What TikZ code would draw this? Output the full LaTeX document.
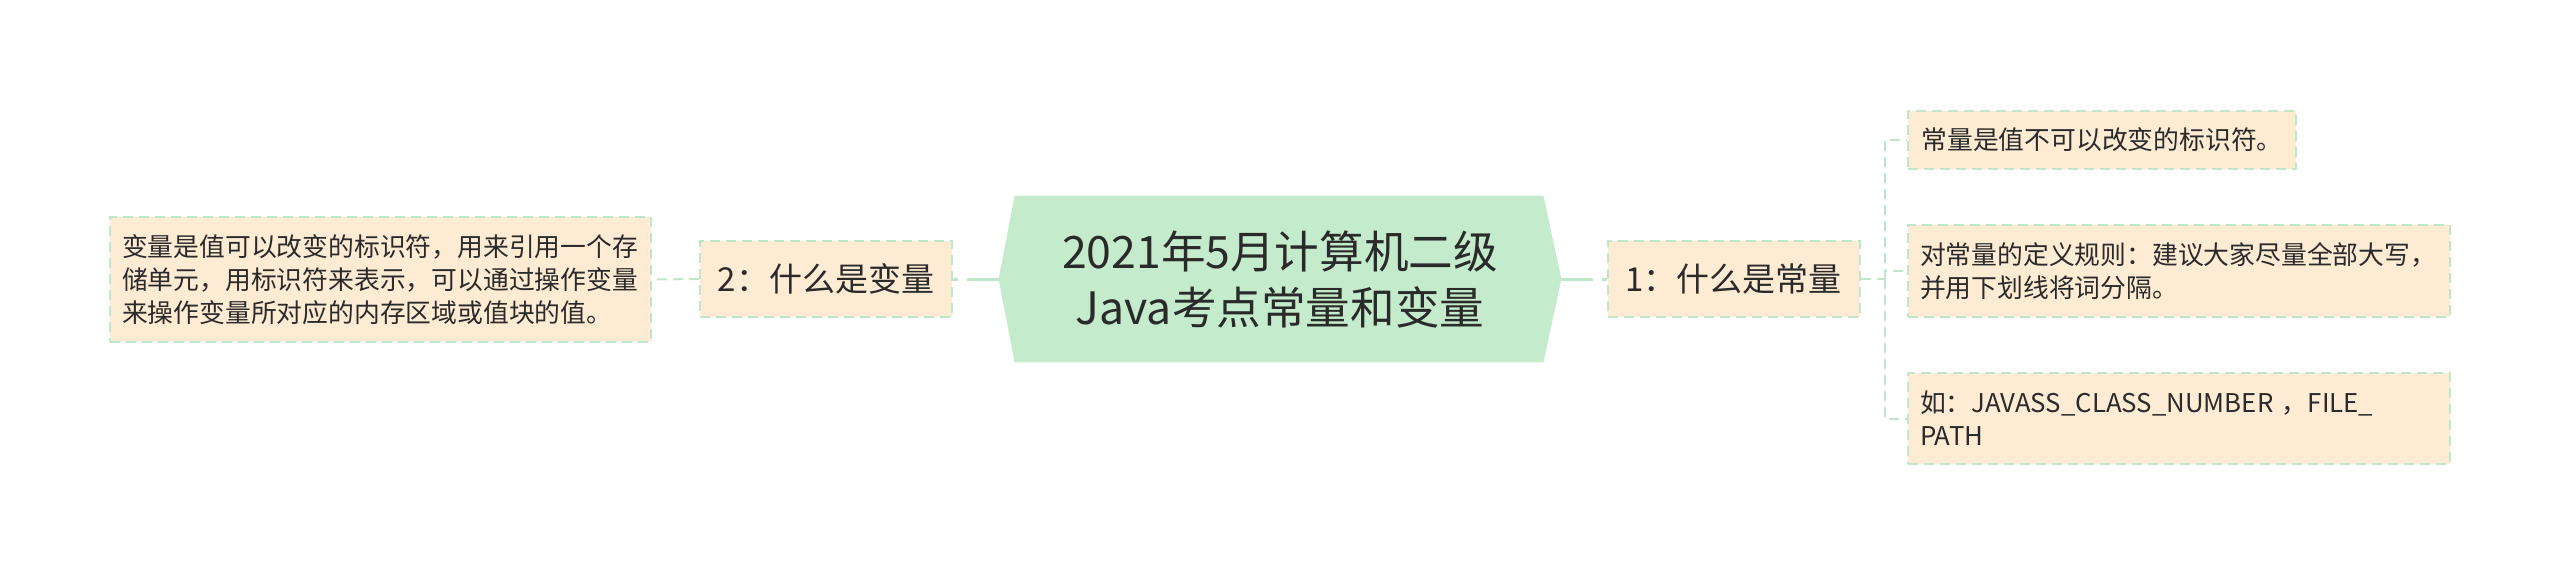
\documentclass[tikz,border=0pt]{standalone}
\usepackage{fontspec}
\setmainfont{Noto Sans CJK SC}
\usetikzlibrary{calc,backgrounds}
\definecolor{rootfill}{HTML}{C4EBCB}
\definecolor{boxfill}{HTML}{FDEBD4}
\definecolor{lineclr}{HTML}{BFE6C9}
\definecolor{txt}{HTML}{2A2A2A}
\begin{document}
\begin{tikzpicture}[x=0.5pt,y=-0.5pt,
  rootnode/.style={minimum width=281pt, minimum height=83pt, inner sep=0pt, align=center, text=txt,
    font=\fontsize{22.3}{28}\selectfont},
  subnode/.style={draw=lineclr, line width=1pt, dash pattern=on 5pt off 3pt, fill=boxfill, text=txt,
    minimum width=126pt, minimum height=38pt, inner sep=0pt, font=\fontsize{16.5}{20}\selectfont},
  leafnode/.style={draw=lineclr, line width=1pt, dash pattern=on 5pt off 3pt, fill=boxfill, text=txt,
    align=left, inner xsep=6pt, inner ysep=0pt, font=\fontsize{12.9}{16.5}\selectfont},
  rootlink/.style={draw=lineclr, line width=1.5pt, dash pattern=on 16pt off 4.5pt on 5pt off 100pt},
  childlink/.style={draw=lineclr, line width=1pt, dash pattern=on 5pt off 3pt}
]
\useasboundingbox (0,0) rectangle (2560,575);

\node[rootnode] (root) at (1280,279) {2021年5月计算机二级\\Java考点常量和变量};
\begin{pgfonlayer}{background}
\fill[rootfill] (root.west) -- ($(root.north west)+(16,0)$) -- ($(root.north east)+(-18,0)$)
  -- (root.east) -- ($(root.south east)+(-18,0)$) -- ($(root.south west)+(16,0)$) -- cycle;
\end{pgfonlayer}

\node[subnode] (n2) at (826,279) {2：什么是变量};
\node[subnode] (n1) at (1733.5,279) {1：什么是常量};

\node[leafnode, anchor=east, text width=258.5pt, minimum height=62.5pt] (lv) at (652,279.5)
  {变量是值可以改变的标识符，用来引用一个存\\储单元，用标识符来表示，可以通过操作变量\\来操作变量所对应的内存区域或值块的值。};

\node[leafnode, anchor=west, minimum width=194pt, minimum height=29pt] (c1) at (1907,140)
  {常量是值不可以改变的标识符。};
\node[leafnode, anchor=west, text width=259pt, minimum height=46pt] (c2) at (1907,271)
  {对常量的定义规则：建议大家尽量全部大写，\\并用下划线将词分隔。};
\node[leafnode, anchor=west, text width=259pt, minimum height=45.5pt] (c3) at (1907,418.5)
  {如：JAVASS\_CLASS\_NUMBER ，FILE\_\\PATH};

\draw[rootlink] (root.west) -- (n2.east);
\draw[rootlink] (root.east) -- (n1.west);
\draw[childlink] (n2.west) -- (lv.east);
\draw[childlink] (n1.east) -- ++(24,0) coordinate (bus);
\draw[childlink] (bus) |- (c1.west);
\draw[childlink] (bus) |- (c2.west);
\draw[childlink] (bus) |- (c3.west);
\end{tikzpicture}
\end{document}
